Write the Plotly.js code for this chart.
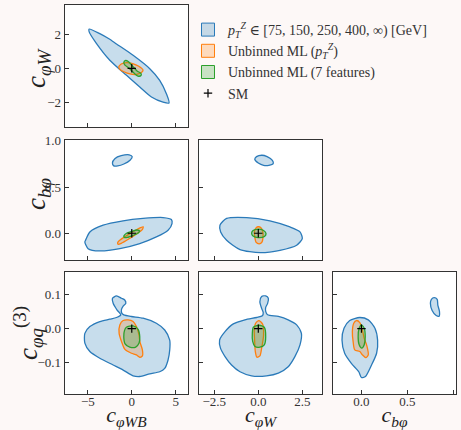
<!DOCTYPE html>
<html>
<head>
<meta charset="utf-8">
<script src="https://cdn.plot.ly/plotly-3.0.1.min.js"></script>
<style>html,body{margin:0;padding:0;background:#fdf8f7;}#plot{width:461px;height:430px;}</style>
</head>
<body>
<div id="plot"></div>
<script>
// ---- legend labels ----
const legendNames = [
  "<i>p</i><sub><i>T</i></sub><sup><i>Z</i></sup> ∈ [75, 150, 250, 400, ∞) [GeV]",
  "Unbinned ML (<i>p</i><sub><i>T</i></sub><sup><i>Z</i></sup>)",
  "Unbinned ML (7 features)",
  "SM"
];
// ---- axis labels ----
const xLabels = ["<i>c</i><sub><i>φWB</i></sub>", "<i>c</i><sub><i>φW</i></sub>", "<i>c</i><sub><i>bφ</i></sub>"];
const yLabels = ["<i>c</i><sub><i>φW</i></sub>", "<i>c</i><sub><i>bφ</i></sub>", "<i>c</i><sub><i>φq</i></sub><sup>(3)</sup>"];

// ---- SM point ----
const smPoint = [0, 0];

// ---- contours, [x, y] pairs ----
// row 1: c_phiW vs c_phiWB
const r1c1_blue = [[-4.85,2.29],[-3.64,2.02],[-2.6,1.72],[-1.74,1.42],[0.15,0.76],[2.05,-0.02],[3.18,-0.70],[3.94,-1.48],[4.24,-2.02],[3.56,-1.97],[2.24,-1.67],[0.91,-1.09],[-0.60,-0.41],[-2.5,0.47],[-4.01,1.44],[-4.85,2.12]];
const r1c1_orange = [[-1.48,0.08],[-1.2,0.25],[-0.6,0.33],[0.1,0.28],[0.8,0.12],[1.28,-0.1],[1.1,-0.25],[0.5,-0.36],[-0.2,-0.33],[-0.9,-0.2],[-1.35,-0.06]];
const r1c1_green = [[-0.9,0.35],[-0.75,0.45],[-0.4,0.4],[0.1,0.12],[0.6,-0.15],[1.05,-0.3],[1.05,-0.42],[0.7,-0.45],[0.2,-0.25],[-0.3,0.0],[-0.8,0.2]];
// row 2: c_bphi vs c_phiWB
const r2c1_blue = [[-5.26,-0.076],[-4.77,0.014],[-3.26,0.087],[-0.99,0.134],[1.28,0.16],[3.56,0.17],[4.51,0.149],[4.58,0.105],[4.13,0.033],[2.8,-0.04],[0.91,-0.112],[-1.36,-0.167],[-3.64,-0.192],[-4.97,-0.167],[-5.34,-0.095]];
const r2c1_blueIsland = [[-2.2,0.76],[-1.9,0.81],[-1.2,0.84],[-0.3,0.85],[0.05,0.83],[-0.2,0.79],[-0.9,0.75],[-1.6,0.73],[-2.05,0.73]];
const r2c1_orange = [[-1.6,-0.1],[-1.3,-0.07],[-0.5,-0.02],[0.4,0.03],[1.0,0.06],[1.3,0.07],[1.2,0.04],[0.5,-0.01],[-0.3,-0.06],[-1.2,-0.11],[-1.55,-0.12]];
const r2c1_green = [[-0.9,-0.03],[-0.6,0.0],[0,0.02],[0.6,0.035],[0.9,0.025],[0.7,0.0],[0.1,-0.025],[-0.5,-0.045],[-0.85,-0.045]];
// row 2: c_bphi vs c_phiW
const r2c2_blue = [[-2.18,0.087],[-1.8,0.16],[-0.66,0.17],[0.66,0.134],[1.8,0.068],[2.37,0.014],[2.5,-0.058],[2.18,-0.13],[1.23,-0.185],[0.1,-0.21],[-1.04,-0.177],[-1.8,-0.076],[-2.14,0.014]];
const r2c2_blueIsland = [[-0.2,0.8],[-0.1,0.83],[0.2,0.845],[0.5,0.83],[0.8,0.79],[0.85,0.755],[0.6,0.735],[0.3,0.735],[0.0,0.76]];
const r2c2_orange = [[0,0.07],[0.15,0.06],[0.25,0.02],[0.27,-0.04],[0.2,-0.1],[0.05,-0.115],[-0.12,-0.1],[-0.2,-0.04],[-0.22,0.02],[-0.12,0.06]];
const r2c2_green = [[-0.38,0],[-0.3,0.03],[0,0.045],[0.3,0.03],[0.44,-0.003],[0.35,-0.035],[0,-0.048],[-0.3,-0.03]];
// row 3: c_phiq3 vs c_phiWB
const r3c1_blue = [[-1.25,0.041],[-1.67,0.055],[-2.12,0.075],[-2.20,0.090],[-1.74,0.097],[-1.17,0.090],[-0.80,0.085],[-0.68,0.075],[-0.98,0.067],[-1.17,0.057],[-1.14,0.046],[-0.91,0.041],[-0.04,0.036],[1.29,0.031],[2.80,0.016],[3.75,-0.004],[4.32,-0.034],[4.32,-0.063],[4.13,-0.093],[3.75,-0.118],[3.18,-0.128],[2.05,-0.134],[0.91,-0.142],[0.15,-0.140],[-0.98,-0.123],[-2.12,-0.108],[-3.64,-0.088],[-4.77,-0.068],[-5.34,-0.043],[-5.34,-0.014],[-4.77,0.006],[-3.64,0.021],[-2.5,0.028],[-1.74,0.033]];
const r3c1_orange = [[-0.98,0.024],[-0.42,0.026],[0.15,0.021],[0.53,0.006],[0.83,-0.019],[0.91,-0.038],[1.21,-0.063],[1.21,-0.081],[0.91,-0.085],[0.53,-0.078],[-0.04,-0.073],[-0.80,-0.061],[-1.17,-0.038],[-1.44,-0.014],[-1.36,0.011]];
const r3c1_green = [[-0.61,0.004],[0.15,0.008],[0.72,-0.002],[0.91,-0.024],[0.83,-0.043],[0.45,-0.055],[-0.23,-0.055],[-0.76,-0.045],[-0.91,-0.024],[-0.83,-0.006]];
// row 3: c_phiq3 vs c_phiW
const r3c2_blue = [[0.19,0.060],[0.09,0.080],[0.19,0.095],[0.42,0.097],[0.57,0.090],[0.53,0.075],[0.42,0.063],[0.42,0.051],[0.53,0.041],[1.14,0.036],[1.70,0.026],[2.18,0.011],[2.45,-0.014],[2.37,-0.048],[2.08,-0.083],[1.70,-0.113],[1.14,-0.132],[0.47,-0.140],[-0.38,-0.140],[-1.04,-0.128],[-1.52,-0.108],[-1.89,-0.083],[-2.15,-0.058],[-2.2,-0.034],[-1.89,-0.009],[-1.42,0.014],[-0.76,0.026],[-0.09,0.033],[0.23,0.038],[0.28,0.048]];
const r3c2_orange = [[0.04,0.024],[0.25,0.013],[0.30,-0.019],[0.19,-0.058],[0.09,-0.081],[-0.08,-0.085],[-0.17,-0.068],[-0.21,-0.034],[-0.23,-0.004],[-0.15,0.016]];
const r3c2_green = [[-0.28,0.004],[0.04,0.010],[0.34,0.004],[0.42,-0.024],[0.34,-0.048],[0.09,-0.055],[-0.19,-0.053],[-0.32,-0.038],[-0.34,-0.014]];
// row 3: c_phiq3 vs c_bphi
const r3c3_blue = [[-0.018,0.033],[0.074,0.026],[0.147,0.001],[0.176,-0.034],[0.165,-0.073],[0.110,-0.108],[0.044,-0.142],[0.0,-0.145],[-0.029,-0.128],[-0.110,-0.103],[-0.183,-0.073],[-0.212,-0.034],[-0.190,0.001],[-0.128,0.024]];
const r3c3_blueIsland = [[0.762,0.087],[0.751,0.075],[0.770,0.054],[0.814,0.039],[0.846,0.037],[0.850,0.051],[0.832,0.070],[0.825,0.087],[0.792,0.092]];
const r3c3_orange = [[-0.055,0.024],[-0.018,0.018],[0.008,-0.002],[0.030,-0.029],[0.059,-0.051],[0.074,-0.078],[0.048,-0.086],[0.011,-0.078],[-0.018,-0.068],[-0.073,-0.063],[-0.091,-0.038],[-0.099,-0.009],[-0.084,0.016]];
const r3c3_green = [[0,0.011],[0.030,0.001],[0.041,-0.024],[0.030,-0.048],[0.004,-0.058],[-0.025,-0.048],[-0.036,-0.024],[-0.025,0.001]];

// ---- axis ranges / ticks ----
const colRanges = [[-7.6, 6.4], [-3.37, 3.62], [-0.31, 1.03]];
const rowRanges = [[-3.42, 3.69], [-0.29, 1.01], [-0.194, 0.168]];
const colDticks = [5, 2.5, 0.5];
const rowDticks = [2, 0.5, 0.1];
const colFormats = ["d", ".1f", ".1f"];
const rowFormats = ["d", ".1f", ".1f"];

// ---- styling ----
const W = 461, H = 430;
const FONT = "'Liberation Serif', 'DejaVu Serif', serif";
const colPx = [[65, 188], [199, 322], [333, 456]];
const rowPx = [[5, 127], [140, 260], [272, 394]];
const yTitlePx = [[38, 68], [38, 194], [28, 333]];
const BLUE = {line: "#2a7ab9", fill: "rgba(31,119,180,0.25)"};
const ORANGE = {line: "#ff7f0e", fill: "rgba(255,127,14,0.25)"};
const GREEN = {line: "#2ca02c", fill: "rgba(44,160,44,0.25)"};

const panels = [
  {r: 0, c: 0, blue: [r1c1_blue], orange: r1c1_orange, green: r1c1_green},
  {r: 1, c: 0, blue: [r2c1_blue, r2c1_blueIsland], orange: r2c1_orange, green: r2c1_green},
  {r: 1, c: 1, blue: [r2c2_blue, r2c2_blueIsland], orange: r2c2_orange, green: r2c2_green},
  {r: 2, c: 0, blue: [r3c1_blue], orange: r3c1_orange, green: r3c1_green},
  {r: 2, c: 1, blue: [r3c2_blue], orange: r3c2_orange, green: r3c2_green},
  {r: 2, c: 2, blue: [r3c3_blue, r3c3_blueIsland], orange: r3c3_orange, green: r3c3_green}
];

function closed(pts) { const p = pts.concat([pts[0]]); return {x: p.map(d => d[0]), y: p.map(d => d[1])}; }

const data = [];
// legend entries
[BLUE, ORANGE, GREEN].forEach((s, i) => {
  data.push({x: [null], y: [null], xaxis: "x", yaxis: "y", mode: "markers", name: legendNames[i], showlegend: true,
    marker: {symbol: "square", size: 13, color: s.fill, line: {color: s.line, width: 1}}, hoverinfo: "skip"});
});

const layout = {
  width: W, height: H,
  margin: {l: 0, r: 0, t: 0, b: 0},
  paper_bgcolor: "#fdf8f7", plot_bgcolor: "#ffffff",
  font: {family: FONT, color: "#222", size: 13},
  showlegend: true,
  legend: {x: 188 / W, y: 1 - 14 / H, xanchor: "left", yanchor: "top", bgcolor: "rgba(0,0,0,0)",
           font: {family: FONT, size: 14, color: "#333"}, itemclick: false, tracegroupgap: 0},
  annotations: []
};

function contourTrace(pts, style, xa, ya) {
  const c = closed(pts);
  return {x: c.x, y: c.y, xaxis: xa, yaxis: ya, mode: "lines", fill: "toself", fillcolor: style.fill,
    line: {color: style.line, width: 1.3, shape: "spline", smoothing: 0.7}, showlegend: false, hoverinfo: "skip"};
}

panels.forEach((p, i) => {
  const n = i === 0 ? "" : String(i + 1);
  const xa = "x" + n, ya = "y" + n;
  p.blue.forEach(b => data.push(contourTrace(b, BLUE, xa, ya)));
  data.push(contourTrace(p.orange, ORANGE, xa, ya));
  data.push(contourTrace(p.green, GREEN, xa, ya));
  data.push({x: [smPoint[0]], y: [smPoint[1]], xaxis: xa, yaxis: ya, mode: "markers", name: legendNames[3],
    showlegend: i === 0, marker: {symbol: "cross-thin", size: 6, color: "#000", line: {color: "#000", width: 1.2}}, hoverinfo: "skip"});

  const cp = colPx[p.c], rp = rowPx[p.r];
  const bottom = p.r === 2, left = p.c === 0;
  const common = {ticks: "inside", ticklen: 4, tickwidth: 1, tickcolor: "#333", showline: true, mirror: true,
    linecolor: "#333", linewidth: 1.4, showgrid: false, zeroline: false, fixedrange: true,
    tickfont: {family: FONT, size: 13, color: "#333"}, automargin: false};
  const xax = Object.assign({}, common, {
    domain: [cp[0] / W, cp[1] / W], range: colRanges[p.c], tick0: 0, dtick: colDticks[p.c],
    tickformat: colFormats[p.c], showticklabels: bottom, anchor: ya, ticklabelstandoff: -5
  });
  if (bottom) xax.title = {text: xLabels[p.c], font: {family: FONT, size: 22, color: "#222"}, standoff: 3};
  layout["xaxis" + n] = xax;
  layout["yaxis" + n] = Object.assign({}, common, {
    domain: [1 - rp[1] / H, 1 - rp[0] / H], range: rowRanges[p.r], tick0: 0, dtick: rowDticks[p.r],
    tickformat: rowFormats[p.r], showticklabels: left, anchor: xa
  });
  if (left) {
    const t = yTitlePx[p.r];
    layout.annotations.push({text: yLabels[p.r], xref: "paper", yref: "paper", x: t[0] / W, y: 1 - t[1] / H,
      xanchor: "center", yanchor: "middle", textangle: -90, showarrow: false,
      font: {family: FONT, size: 27, color: "#222"}});
  }
});

Plotly.newPlot("plot", data, layout, {staticPlot: true, displayModeBar: false});
</script>
</body>
</html>
